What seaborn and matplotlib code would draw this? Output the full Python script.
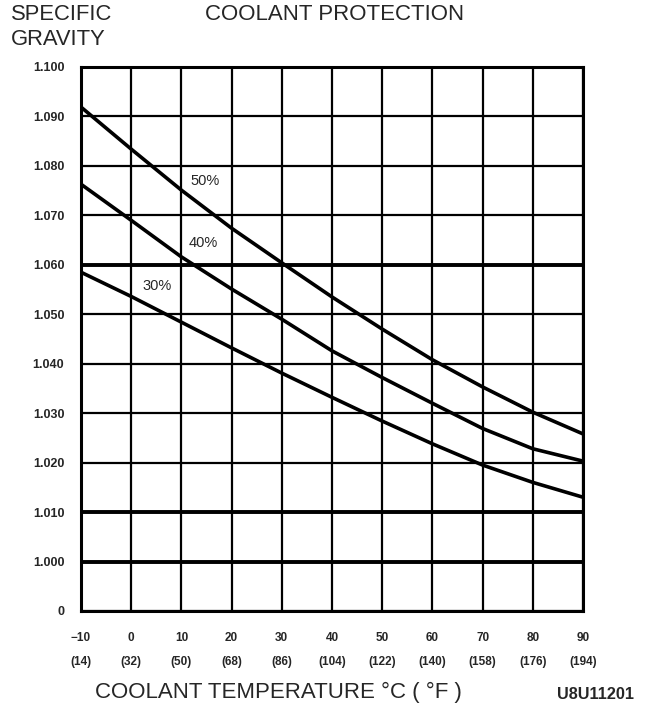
import pandas as pd
import numpy as np
import matplotlib
matplotlib.use("Agg")
import matplotlib.pyplot as plt
import seaborn as sns

# Coolant protection chart: specific gravity vs temperature
temps_c = [-10, 0, 10, 20, 30, 40, 50, 60, 70, 80, 90]
temps_f = ["(14)", "(32)", "(50)", "(68)", "(86)", "(104)", "(122)",
           "(140)", "(158)", "(176)", "(194)"]
sg_50 = [1.0919, 1.0834, 1.0751, 1.0674, 1.0604, 1.0535, 1.0470,
         1.0408, 1.0353, 1.0302, 1.0258]
sg_40 = [1.0763, 1.0690, 1.0616, 1.0551, 1.0490, 1.0426, 1.0372,
         1.0320, 1.0269, 1.0228, 1.0203]
sg_30 = [1.0585, 1.0536, 1.0484, 1.0432, 1.0381, 1.0332, 1.0284,
         1.0238, 1.0195, 1.0160, 1.0130]
concentrations = ["50%", "40%", "30%"]
label_pos = {"50%": (14.7, 1.0769), "40%": (14.3, 1.0644), "30%": (5.1, 1.0557)}

# y axis is broken: the "0" label sits one step below 1.000
y_ticks = [0.990, 1.000, 1.010, 1.020, 1.030, 1.040, 1.050,
           1.060, 1.070, 1.080, 1.090, 1.100]
y_labels = ["0", "1.000", "1.010", "1.020", "1.030", "1.040", "1.050",
            "1.060", "1.070", "1.080", "1.090", "1.100"]
heavy_lines = [1.000, 1.010, 1.060]

df = pd.DataFrame({
    "temp": temps_c * 3,
    "sg": sg_50 + sg_40 + sg_30,
    "conc": [c for c in concentrations for _ in temps_c],
})

sns.set_style("white")
plt.rcParams["font.family"] = ["Liberation Sans", "DejaVu Sans"]

fig = plt.figure(figsize=(6.72, 7.12), dpi=100)
ax = fig.add_axes([0.1205, 0.1419, 0.7471, 0.7640])

ax.grid(True, color="black", linewidth=1.6)
ax.set_axisbelow(True)
for y in heavy_lines:
    ax.axhline(y, color="black", linewidth=2.8, zorder=1)

sns.lineplot(data=df, x="temp", y="sg", hue="conc",
             palette=["black"] * 3, linewidth=2.6, legend=False, ax=ax)

for c in concentrations:
    x, y = label_pos[c]
    ax.text(x, y, c, fontsize=10.5, ha="center", va="center",
            bbox=dict(facecolor="white", edgecolor="none", pad=1))

ax.set_xlim(temps_c[0], temps_c[-1])
ax.set_ylim(y_ticks[0], y_ticks[-1])
ax.set_xticks(temps_c)
ax.set_xticklabels([f"{'\u2212' if t < 0 else ''}{abs(t)}\n{f}"
                    for t, f in zip(temps_c, temps_f)],
                   fontsize=8.5, fontweight="bold", linespacing=2.3)
ax.set_yticks(y_ticks)
ax.set_yticklabels(y_labels, fontsize=9, fontweight="bold")
ax.tick_params(axis="both", direction="out", length=6, width=1.6,
               color="black")
ax.tick_params(axis="x", pad=9)
ax.tick_params(axis="y", pad=6)

for side in ["left", "bottom", "top", "right"]:
    ax.spines[side].set_color("black")
    ax.spines[side].set_linewidth(2.2)

ax.set_xlabel("")
ax.set_ylabel("")

fig.text(0.016, 0.979, "SPECIFIC", fontsize=15.8, va="center", ha="left")
fig.text(0.016, 0.944, "GRAVITY", fontsize=15.8, va="center", ha="left")
fig.text(0.305, 0.979, "COOLANT PROTECTION", fontsize=16, va="center", ha="left")
fig.text(0.141, 0.028, "COOLANT TEMPERATURE \u00b0C ( \u00b0F )", fontsize=16,
         va="center", ha="left")
fig.text(0.829, 0.024, "U8U11201", fontsize=11.7, fontweight="bold",
         va="center", ha="left")

fig.savefig("out.png", dpi=100, facecolor="white")
